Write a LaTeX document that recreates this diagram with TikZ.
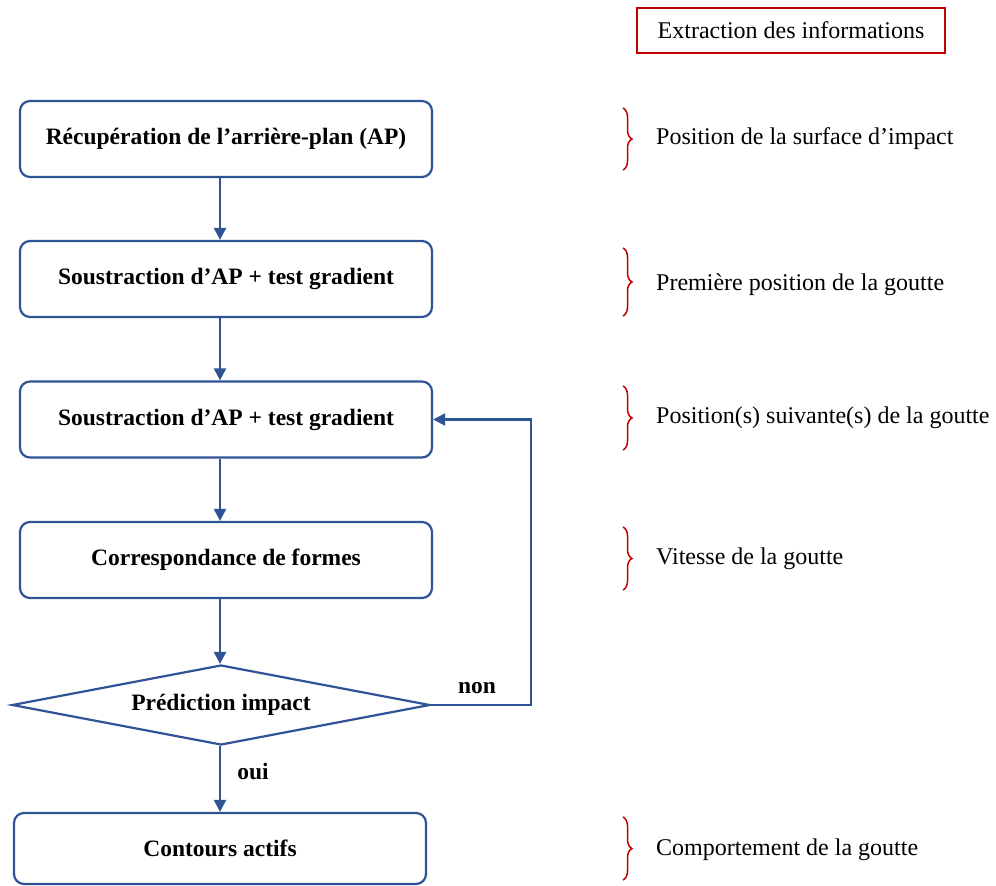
\documentclass[tikz,border=0pt]{standalone}
\usepackage{fontspec}
\setmainfont{Liberation Serif}
\usetikzlibrary{shapes.geometric,arrows.meta,decorations.pathreplacing}
\definecolor{flowblue}{RGB}{47,84,150}
\definecolor{infored}{RGB}{192,0,0}
\begin{document}
\begin{tikzpicture}[x=1pt,y=-1pt,
  stepbox/.style={draw=flowblue, line width=2.2pt, rounded corners=10pt, minimum width=412pt, minimum height=76pt, inner sep=0pt, font=\fontsize{23.5}{28}\selectfont\bfseries},
  decbox/.style={draw=flowblue, line width=2.2pt, diamond, aspect=5, minimum width=418pt, minimum height=80pt, inner sep=0pt, font=\fontsize{23.5}{28}\selectfont\bfseries},
  arr/.style={draw=flowblue, line width=2.2pt, -{Triangle[length=12pt,width=12pt]}},
  infotext/.style={anchor=west, inner sep=0pt, font=\fontsize{24}{28}\selectfont},
  lbl/.style={inner sep=0pt, font=\fontsize{23.5}{28}\selectfont\bfseries},
  bracedec/.style={draw=infored, line width=1.5pt, decorate, decoration={brace, amplitude=9pt}},
]
\useasboundingbox (0,0) rectangle (996,886);

% flow nodes
\node[stepbox] (b1) at (226,139) {Récupération de l’arrière-plan (AP)};
\node[stepbox] (b2) at (226,279) {Soustraction d’AP + test gradient};
\node[stepbox] (b3) at (226,419.5) {Soustraction d’AP + test gradient};
\node[stepbox] (b4) at (226,560) {Correspondance de formes};
\node[decbox] (d) at (221,705) {Prédiction impact};
\node[stepbox, minimum height=71pt] (b5) at (220,848.5) {Contours actifs};

\coordinate (ax) at (220,0);
\coordinate (fb) at (531,0);

\draw[arr] (b1.south -| ax) -- (b2.north -| ax);
\draw[arr] (b2.south -| ax) -- (b3.north -| ax);
\draw[arr] (b3.south -| ax) -- (b4.north -| ax);
\draw[arr] (b4.south -| ax) -- (d.north -| ax);
\draw[arr] (d.south -| ax) -- (b5.north -| ax);
\draw[arr] (d.east) -- (d.east -| fb) -- (b3.east -| fb) -- (b3.east);

\node[lbl] (non) at (477,688) {non};
\node[lbl] (oui) at (253,771) {oui};

% information column
\node[draw=infored, line width=1.5pt, minimum width=308pt, minimum height=45pt, inner sep=0pt, font=\fontsize{24}{28}\selectfont] (ext) at (791,30.5) {Extraction des informations};

\coordinate (r1t) at (623,108); \coordinate (r1b) at (623,170);
\coordinate (r2t) at (623,248); \coordinate (r2b) at (623,316);
\coordinate (r3t) at (623,386); \coordinate (r3b) at (623,450);
\coordinate (r4t) at (623,527); \coordinate (r4b) at (623,590);
\coordinate (r5t) at (623,817); \coordinate (r5b) at (623,880);
\draw[bracedec] (r1t) -- (r1b);
\draw[bracedec] (r2t) -- (r2b);
\draw[bracedec] (r3t) -- (r3b);
\draw[bracedec] (r4t) -- (r4b);
\draw[bracedec] (r5t) -- (r5b);

\node[infotext] (t1) at (656,139) {Position de la surface d’impact};
\node[infotext] (t2) at (656,285) {Première position de la goutte};
\node[infotext] (t3) at (656,418) {Position(s) suivante(s) de la goutte};
\node[infotext] (t4) at (656,559) {Vitesse de la goutte};
\node[infotext] (t5) at (656,850) {Comportement de la goutte};
\end{tikzpicture}
\end{document}
